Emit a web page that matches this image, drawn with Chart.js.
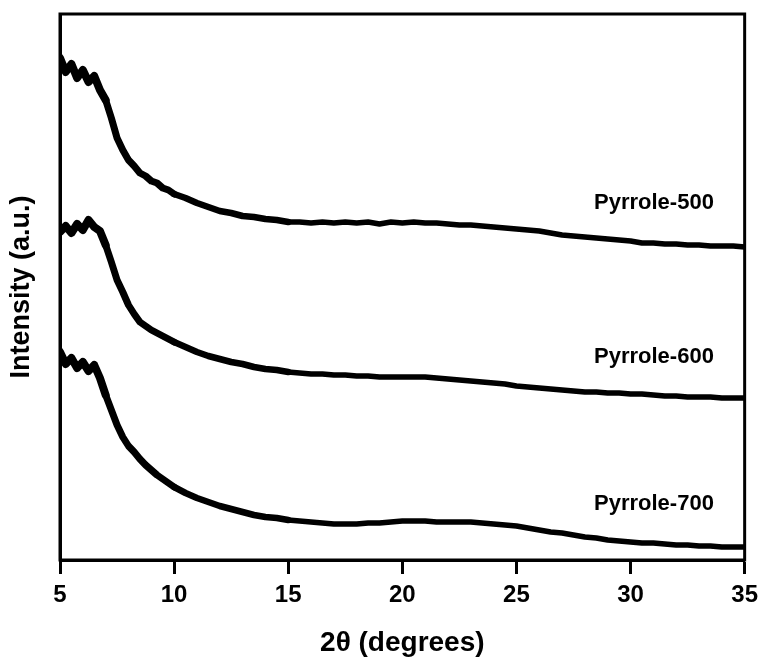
<!DOCTYPE html>
<html>
<head>
<meta charset="utf-8">
<script src="https://cdn.jsdelivr.net/npm/chart.js@4"></script>
<style>
  html, body { margin: 0; padding: 0; background: #fff; }
  #wrap { width: 765px; height: 658px; }
</style>
</head>
<body>
<div id="wrap"><canvas id="xrd" width="765" height="658"></canvas></div>
<script>
// 2theta positions (degrees): fine steps over the low-angle shoulder, then 0.5 deg
const twoTheta = [
  5, 5.25, 5.5, 5.75, 6, 6.25, 6.5, 6.75, 7, 7.25, 7.5, 7.75, 8, 8.25, 8.5, 8.75, 9, 9.25, 9.5, 9.75, 10,
  10.5, 11, 11.5, 12, 12.5, 13, 13.5, 14, 14.5, 15,
  15.5, 16, 16.5, 17, 17.5, 18, 18.5, 19, 19.5, 20,
  20.5, 21, 21.5, 22, 22.5, 23, 23.5, 24, 24.5, 25,
  25.5, 26, 26.5, 27, 27.5, 28, 28.5, 29, 29.5, 30,
  30.5, 31, 31.5, 32, 32.5, 33, 33.5, 34, 34.5, 35
];

// intensities (a.u., stacked as in the figure)
const pyrrole500 = [
  502, 488, 496, 482, 490, 478, 484, 470, 460, 442, 422, 410, 400, 394, 387, 384, 379, 377, 372, 370, 366,
  362, 357, 353, 349, 347, 344, 343, 341, 340, 338,
  338, 337, 338, 337, 338, 337, 338, 336, 338, 337,
  338, 337, 337, 336, 335, 335, 334, 333, 332, 331,
  330, 329, 327, 325, 324, 323, 322, 321, 320, 319,
  317, 317, 316, 316, 315, 315, 314, 314, 314, 313
];
const pyrrole600 = [
  328, 334, 327, 336, 330, 340, 333, 329, 315, 298, 280, 268, 255, 246, 238, 234, 230, 227, 224, 221, 218,
  213, 208, 204, 201, 198, 196, 193, 191, 190, 188,
  187, 186, 186, 185, 185, 184, 184, 183, 183, 183,
  183, 183, 182, 181, 180, 179, 178, 177, 176, 174,
  173, 172, 171, 170, 169, 168, 168, 167, 167, 166,
  166, 165, 164, 164, 163, 163, 163, 162, 162, 162
];
const pyrrole700 = [
  208, 196, 202, 192, 198, 189, 195, 182, 165, 150, 135, 123, 114, 108, 101, 95, 90, 85, 81, 77, 73,
  67, 62, 58, 54, 51, 48, 45, 43, 42, 40,
  39, 38, 37, 36, 36, 36, 37, 37, 38, 39,
  39, 39, 38, 38, 38, 38, 37, 36, 35, 34,
  32, 30, 28, 27, 25, 23, 22, 20, 19, 18,
  17, 17, 16, 15, 15, 14, 14, 13, 13, 13
];

const seriesNames = ['Pyrrole-500', 'Pyrrole-600', 'Pyrrole-700'];
// where each sample name sits (2theta, intensity)
const nameX = [28.4, 28.4, 28.4];
const nameY = [351, 197, 50];

const xTicks = [5, 10, 15, 20, 25, 30, 35];

function toPoints(ys) {
    return twoTheta.map((t, i) => ({ x: t, y: ys[i] }));
}

// noisy pattern looks thicker at low angle
function segWidth(ctx) {
    const t = ctx.p0.parsed.x;
    if (t < 7) return 8;
    if (t < 10) return 7;
    if (t < 15) return 6.5;
    return 5.5;
}

const frame = {
    id: 'frame',
    afterDatasetsDraw(chart) {
        const { ctx, chartArea: a } = chart;
        ctx.save();
        ctx.strokeStyle = '#000';
        ctx.lineWidth = 3;
        ctx.strokeRect(a.left, a.top, a.right - a.left, a.bottom - a.top);
        ctx.restore();
    }
};

const seriesLabels = {
    id: 'seriesLabels',
    afterDraw(chart) {
        const { ctx, scales } = chart;
        ctx.save();
        ctx.font = 'bold 22px "Liberation Sans", Arial, sans-serif';
        ctx.fillStyle = '#000';
        ctx.textAlign = 'left';
        ctx.textBaseline = 'alphabetic';
        seriesNames.forEach((name, i) => {
            ctx.fillText(name, scales.x.getPixelForValue(nameX[i]), scales.y.getPixelForValue(nameY[i]));
        });
        ctx.restore();
    }
};

const lineStyle = {
    borderColor: '#000',
    backgroundColor: '#000',
    pointRadius: 0,
    tension: 0,
    borderJoinStyle: 'round',
    borderCapStyle: 'round',
    segment: { borderWidth: segWidth }
};

new Chart(document.getElementById('xrd'), {
    type: 'line',
    data: {
        datasets: [
            Object.assign({ label: seriesNames[0], data: toPoints(pyrrole500) }, lineStyle),
            Object.assign({ label: seriesNames[1], data: toPoints(pyrrole600) }, lineStyle),
            Object.assign({ label: seriesNames[2], data: toPoints(pyrrole700) }, lineStyle)
        ]
    },
    options: {
        responsive: false,
        animation: false,
        layout: { padding: { left: 0, right: 18, top: 14, bottom: 0 } },
        plugins: {
            legend: { display: false },
            tooltip: { enabled: false }
        },
        scales: {
            x: {
                type: 'linear',
                min: 5,
                max: 35,
                afterBuildTicks: (scale) => { scale.ticks = xTicks.map(v => ({ value: v })); },
                afterFit: (scale) => { scale.height = 98; },
                border: { display: true, color: '#000', width: 3 },
                grid: {
                    display: true,
                    drawOnChartArea: false,
                    drawTicks: true,
                    tickLength: 14,
                    tickWidth: 3,
                    tickColor: '#000'
                },
                ticks: {
                    color: '#000',
                    padding: 7,
                    maxRotation: 0,
                    font: { family: '"Liberation Sans", Arial, sans-serif', size: 24, weight: 'bold' }
                },
                title: {
                    display: true,
                    text: '2θ (degrees)',
                    color: '#000',
                    padding: { top: 0, bottom: 1 },
                    font: { family: '"Liberation Sans", Arial, sans-serif', size: 28, weight: 'bold', lineHeight: 1 }
                }
            },
            y: {
                type: 'linear',
                min: 0,
                max: 546,
                afterFit: (scale) => { scale.width = 60; },
                border: { display: true, color: '#000', width: 3 },
                grid: { display: false },
                ticks: { display: false },
                title: {
                    display: true,
                    text: 'Intensity (a.u.)',
                    color: '#000',
                    padding: { top: 8, bottom: 0 },
                    font: { family: '"Liberation Sans", Arial, sans-serif', size: 27, weight: 'bold', lineHeight: 1 }
                }
            }
        }
    },
    plugins: [frame, seriesLabels]
});
</script>
</body>
</html>
